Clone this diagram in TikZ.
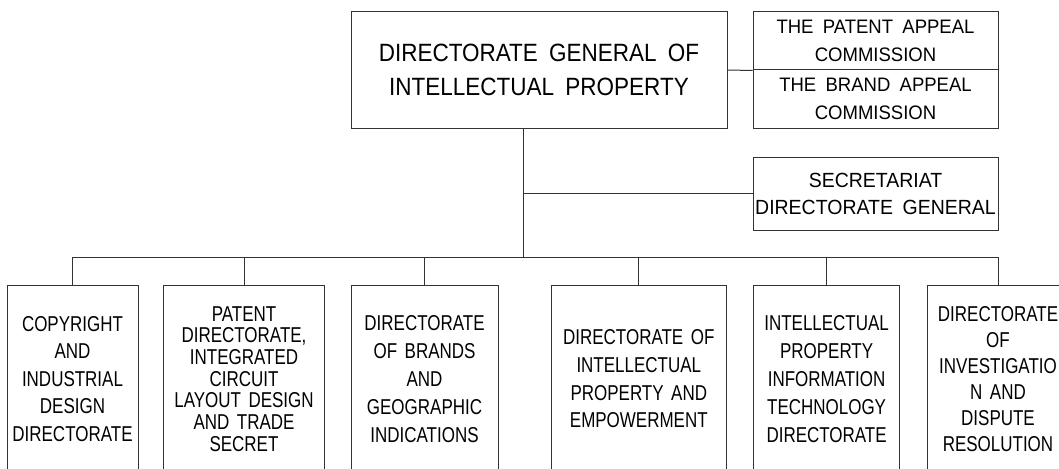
\documentclass[tikz,border=0pt]{standalone}
\usepackage{fontspec}
\newfontfamily\mainf[FakeStretch=0.9,WordSpace=1.8]{Liberation Sans}
\newfontfamily\sidef[FakeStretch=0.95,WordSpace=1.8]{Liberation Sans}
\newfontfamily\botf[FakeStretch=0.79,WordSpace=1.6]{Liberation Sans}
\begin{document}
\begin{tikzpicture}[x=1pt,y=-1pt,
  box/.style={draw=black!80, line width=1pt, rectangle, inner sep=0pt, align=center},
  bot/.style={box, minimum height=188pt},
  wire/.style={draw=black!80, line width=1pt}]
\path[use as bounding box] (0,0) rectangle (1059,468);
\clip (0,0) rectangle (1059,468);
\node[box, minimum width=376pt, minimum height=116pt, font=\mainf\fontsize{25}{34}\selectfont] (dg) at (539,70) {DIRECTORATE GENERAL OF\\INTELLECTUAL PROPERTY};
\node[box, minimum width=245pt, minimum height=58pt, font=\sidef\fontsize{19.5}{28}\selectfont] (pat) at (875.5,41) {THE PATENT APPEAL\\COMMISSION};
\node[box, minimum width=245pt, minimum height=58pt, font=\sidef\fontsize{19.5}{28}\selectfont] (brand) at (875.5,99) {THE BRAND APPEAL\\COMMISSION};
\node[box, minimum width=245pt, minimum height=73pt, font=\sidef\fontsize{20.5}{27}\selectfont] (sec) at (875.5,193.5) {SECRETARIAT\\DIRECTORATE GENERAL};
\coordinate (bus) at (523,257);
\draw[wire] (bus |- dg.south) -- (bus);
\draw[wire] (bus |- sec.west) -- (sec.west);
\draw[wire] (dg.east) -- (pat.south west);
\node[bot, minimum width=131pt, font=\botf\fontsize{21.5}{27.5}\selectfont] (b1) at (72.5,379) {COPYRIGHT\\AND\\INDUSTRIAL\\DESIGN\\DIRECTORATE};
\node[bot, minimum width=161pt, font=\botf\fontsize{21.5}{21.7}\selectfont] (b2) at (244,379) {PATENT\\DIRECTORATE,\\INTEGRATED\\CIRCUIT\\LAYOUT DESIGN\\AND TRADE\\SECRET};
\node[bot, minimum width=147pt, font=\botf\fontsize{21.5}{28}\selectfont] (b3) at (424.5,379) {DIRECTORATE\\OF BRANDS\\AND\\GEOGRAPHIC\\INDICATIONS};
\node[bot, minimum width=175pt, font=\botf\fontsize{21.5}{27.7}\selectfont] (b4) at (638.8,379) {DIRECTORATE OF\\INTELLECTUAL\\PROPERTY AND\\EMPOWERMENT};
\node[bot, minimum width=146pt, font=\botf\fontsize{21.5}{28}\selectfont] (b5) at (826.6,379) {INTELLECTUAL\\PROPERTY\\INFORMATION\\TECHNOLOGY\\DIRECTORATE};
\node[bot, minimum width=142pt, font=\botf\fontsize{21.5}{26}\selectfont] (b6) at (998,379) {DIRECTORATE\\OF\\INVESTIGATIO\\N AND\\DISPUTE\\RESOLUTION};
\draw[wire] (b1.north |- bus) -- (b6.north |- bus);
\foreach \b in {b1,b2,b3,b4,b5,b6}{
  \draw[wire] (\b.north |- bus) -- (\b.north);
}
\end{tikzpicture}
\end{document}
